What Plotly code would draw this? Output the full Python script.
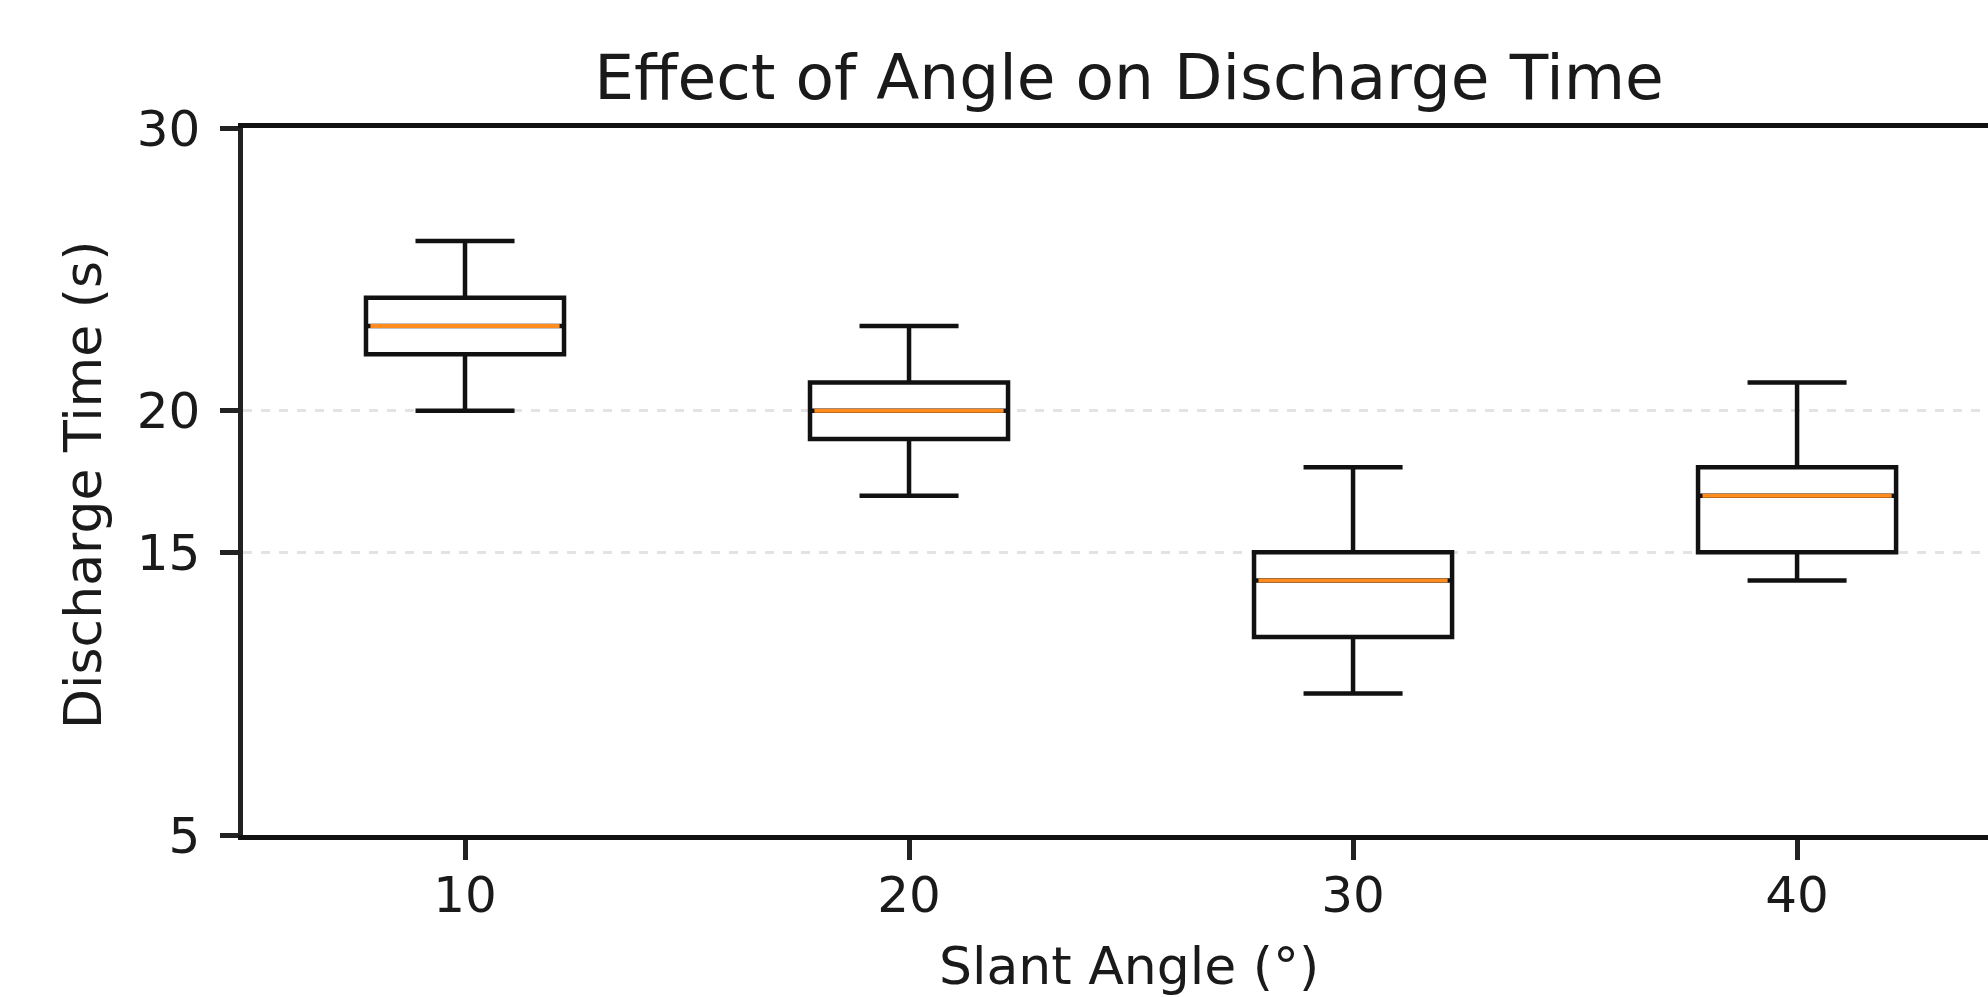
import plotly.graph_objects as go

# ---- data ----
angles = [10, 20, 30, 40]
tick_labels = ["10", "20", "30", "40"]
lower_whisker = [20, 17, 10, 14]
q1_vals = [22, 19, 12, 15]
median_vals = [23, 20, 14, 17]
q3_vals = [24, 21, 15, 18]
upper_whisker = [26, 23, 18, 21]
y_ticks = [5, 15, 20, 30]

title_text = "Effect of Angle on Discharge Time"
x_label = "Slant Angle (°)"
y_label = "Discharge Time (s)"

# ---- style ----
FONT = "DejaVu Sans"
TXT = "#1a1a1a"
BOX_W = 4.46
LINE_W = 4.5
W, H = 1988, 997
L, R, T, B = 243, 0, 128, 162
plot_w = W - L - R
plot_h = H - T - B

fig = go.Figure()
fig.add_trace(go.Box(
    x=angles, q1=q1_vals, median=median_vals, q3=q3_vals,
    lowerfence=lower_whisker, upperfence=upper_whisker,
    width=BOX_W, whiskerwidth=0.5,
    line=dict(color="#111111", width=LINE_W),
    fillcolor="rgba(0,0,0,0)", boxpoints=False, showlegend=False,
    hoverinfo="skip",
))

# orange median lines drawn over the boxes
for a, m in zip(angles, median_vals):
    fig.add_trace(go.Scatter(
        x=[a - BOX_W / 2 + 0.1, a + BOX_W / 2 - 0.1], y=[m, m], mode="lines",
        line=dict(color="#ff8c1e", width=4), showlegend=False,
        hoverinfo="skip",
    ))

def px_to_paper_x(px):
    return (px - L) / plot_w

def px_to_paper_y(py):
    return (H - B - py) / plot_h

fig.update_layout(
    width=W, height=H,
    margin=dict(l=L, r=R, t=T, b=B, autoexpand=False),
    paper_bgcolor="white", plot_bgcolor="white",
    font=dict(family=FONT, size=52, color=TXT),
    title=dict(
        text=title_text, font=dict(family=FONT, size=63, color=TXT),
        xref="paper", x=px_to_paper_x(1129), xanchor="center",
        yref="container", y=1 - 77 / H, yanchor="middle",
    ),
    xaxis=dict(
        range=[5, 44.3], tickvals=angles, ticktext=tick_labels,
        showline=True, linecolor="#111111", linewidth=LINE_W, mirror=True,
        ticks="outside", ticklen=20, tickwidth=LINE_W, tickcolor="#222222",
        showgrid=False, zeroline=False, ticklabelstandoff=-8,
        tickfont=dict(family=FONT, size=50, color=TXT),
    ),
    yaxis=dict(
        range=[5, 30], tickvals=y_ticks,
        showline=True, linecolor="#222222", linewidth=LINE_W, mirror=False,
        ticks="outside", ticklen=18, tickwidth=LINE_W, tickcolor="#222222",
        showgrid=True, gridcolor="#e3e3e3", gridwidth=2.5, griddash="dash",
        zeroline=False, ticklabelstandoff=10,
        tickfont=dict(family=FONT, size=50, color=TXT),
    ),
    annotations=[
        dict(text=x_label, xref="paper", yref="paper",
             x=px_to_paper_x(1129), y=px_to_paper_y(966),
             xanchor="center", yanchor="middle", showarrow=False,
             font=dict(family=FONT, size=52, color=TXT)),
        dict(text=y_label, xref="paper", yref="paper",
             x=px_to_paper_x(83), y=px_to_paper_y(485),
             xanchor="center", yanchor="middle", showarrow=False,
             textangle=-90,
             font=dict(family=FONT, size=52, color=TXT)),
    ],
)

fig.write_html(
    "out.html",
    config={"displayModeBar": False},
    post_script="document.body.style.margin='0';document.body.style.overflow='hidden';",
)
